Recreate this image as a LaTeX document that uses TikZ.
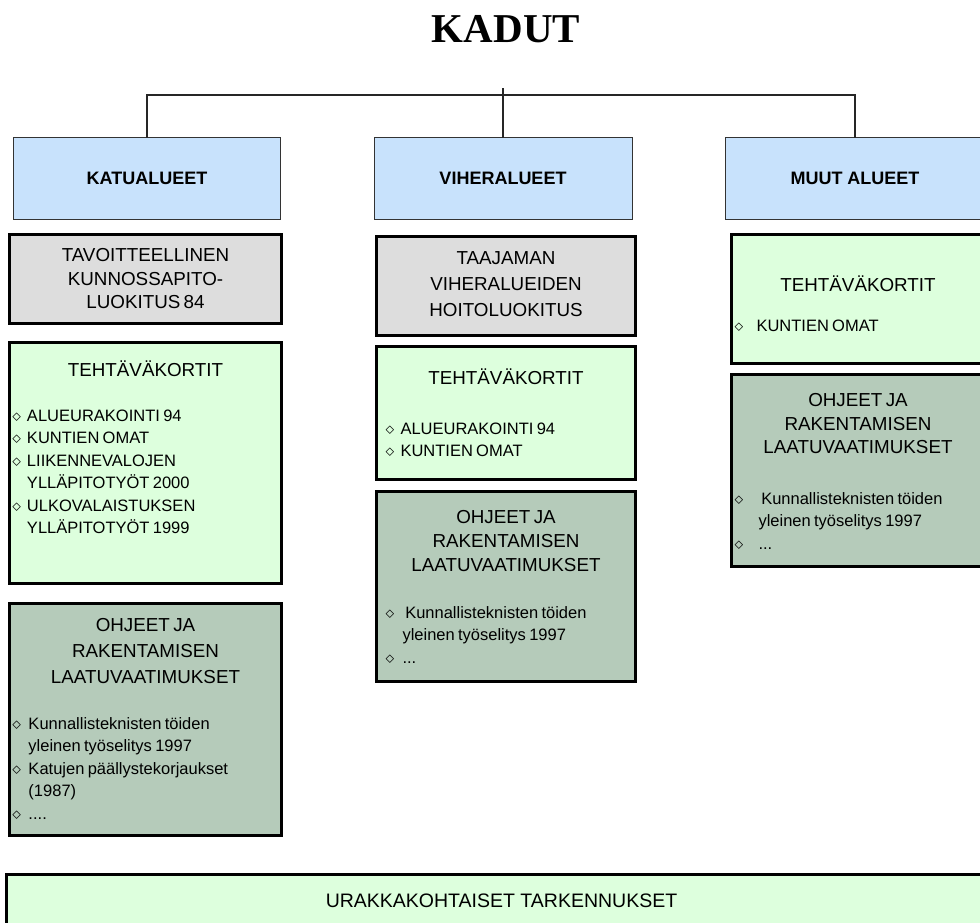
\documentclass[tikz,border=0pt]{standalone}
\usepackage{fontspec}
\setmainfont{Liberation Sans}
\newfontfamily\headserif{Liberation Serif}
\usetikzlibrary{positioning}
\definecolor{areablue}{RGB}{200,226,252}
\definecolor{classgray}{RGB}{221,221,221}
\definecolor{cardgreen}{RGB}{221,255,221}
\definecolor{guidesage}{RGB}{181,203,186}
% body of a card: fixed height, text from the top
\newcommand{\cardbody}[2]{\begin{minipage}[t][#1][t]{\linewidth}\raggedright#2\end{minipage}}
% centred heading: first baseline, line skip, text
\newcommand{\cardhead}[3]{{\centering\fontsize{18.8}{#2}\selectfont\rule{0pt}{#1}#3\par}}
% bullet list: gap, left margin, indent, items
\newcommand{\cardlist}[4]{\vspace{#1}{\fontsize{16.5}{22.5}\selectfont\leftskip=#2\relax\def\bindent{#3}#4}}
\newcommand{\bitem}[1]{\hangindent=\bindent\hangafter=1\noindent\makebox[\bindent][l]{$\diamond$}#1\par}
\tikzset{
  areabox/.style={
    rectangle, draw=black!80, line width=1pt, fill=areablue,
    outer sep=0pt, minimum height=82pt,
    font=\fontsize{18}{20}\selectfont\bfseries
  },
  cardbox/.style={
    rectangle, draw=black, line width=3pt,
    outer sep=0pt, inner xsep=3pt, inner ysep=0pt
  },
  link/.style={draw=black!85, line width=1.2pt},
}

\begin{document}
\begin{tikzpicture}[x=1pt, y=-1pt]
\useasboundingbox (0,0) rectangle (980,922);

%% -- title ---------------------------------------------------------------
\node[anchor=base, font=\headserif\bfseries\fontsize{41}{45}\selectfont] (kadut) at (506,42) {KADUT};

%% -- area headers --------------------------------------------------------
\node[areabox, minimum width=267pt] (katu) at (147,178.5) {KATUALUEET};
\node[areabox, minimum width=258pt] (vihera) at (503,178.5) {VIHERALUEET};
\node[areabox, minimum width=259pt] (muut) at (855,178.5) {MUUT ALUEET};

\draw[link] (katu.north) -- ++(0,-42.5) -| (muut.north);
\draw[link] (vihera.north) -- ++(0,-49.5);

%% -- KATUALUEET column ---------------------------------------------------
\node[cardbox, fill=classgray, text width=266pt, anchor=north] (katuluokka) at (145.5,234.5) {%
  \cardbody{89pt}{\cardhead{27pt}{23.5pt}{TAVOITTEELLINEN\\KUNNOSSAPITO-\\LUOKITUS 84}}};

\node[cardbox, fill=cardgreen, text width=266pt, below=19pt of katuluokka] (katukortit) {%
  \cardbody{241pt}{%
    \cardhead{34pt}{25pt}{TEHTÄVÄKORTIT}
    \cardlist{22pt}{0pt}{14.5pt}{%
      \bitem{ALUEURAKOINTI 94}
      \bitem{KUNTIEN OMAT}
      \bitem{LIIKENNEVALOJEN\newline YLLÄPITOTYÖT 2000}
      \bitem{ULKOVALAISTUKSEN\newline YLLÄPITOTYÖT 1999}}}};

\node[cardbox, fill=guidesage, text width=266pt, below=20pt of katukortit] (katuohjeet) {%
  \cardbody{232pt}{%
    \cardhead{28pt}{26pt}{OHJEET JA\\RAKENTAMISEN\\LAATUVAATIMUKSET}
    \cardlist{23pt}{0pt}{16pt}{%
      \bitem{Kunnallisteknisten töiden\newline yleinen työselitys 1997}
      \bitem{Katujen päällystekorjaukset\newline (1987)}
      \bitem{....}}}};

%% -- VIHERALUEET column --------------------------------------------------
\node[cardbox, fill=classgray, text width=253pt, anchor=north] (viherluokka) at (506,236.5) {%
  \cardbody{99pt}{\cardhead{28pt}{26pt}{TAAJAMAN\\VIHERALUEIDEN\\HOITOLUOKITUS}}};

\node[cardbox, fill=cardgreen, text width=253pt, below=11pt of viherluokka] (viherkortit) {%
  \cardbody{133pt}{%
    \cardhead{38pt}{25pt}{TEHTÄVÄKORTIT}
    \cardlist{27pt}{6pt}{15pt}{%
      \bitem{ALUEURAKOINTI 94}
      \bitem{KUNTIEN OMAT}}}};

\node[cardbox, fill=guidesage, text width=253pt, below=12pt of viherkortit] (viherohjeet) {%
  \cardbody{190pt}{%
    \cardhead{32pt}{24pt}{OHJEET JA\\RAKENTAMISEN\\LAATUVAATIMUKSET}
    \cardlist{24pt}{6pt}{17pt}{%
      \bitem{\,Kunnallisteknisten töiden\newline yleinen työselitys 1997}
      \bitem{...}}}};

%% -- MUUT ALUEET column --------------------------------------------------
\node[cardbox, fill=cardgreen, text width=247pt, anchor=north] (muutkortit) at (858,234.5) {%
  \cardbody{129pt}{%
    \cardhead{57pt}{25pt}{TEHTÄVÄKORTIT}
    \cardlist{17pt}{0pt}{22pt}{%
      \bitem{KUNTIEN OMAT}}}};

\node[cardbox, fill=guidesage, text width=247pt, below=11pt of muutkortit] (muutohjeet) {%
  \cardbody{192pt}{%
    \cardhead{32pt}{23.5pt}{OHJEET JA\\RAKENTAMISEN\\LAATUVAATIMUKSET}
    \cardlist{28pt}{0pt}{24pt}{%
      \bitem{\,Kunnallisteknisten töiden\newline yleinen työselitys 1997}
      \bitem{...}}}};

%% -- bottom band ---------------------------------------------------------
\node[cardbox, fill=cardgreen, minimum width=990pt, minimum height=52pt, anchor=north west,
      font=\fontsize{19.5}{22}\selectfont] (tarkennus) at (6.5,874.5) {URAKKAKOHTAISET TARKENNUKSET};

\end{tikzpicture}
\end{document}
